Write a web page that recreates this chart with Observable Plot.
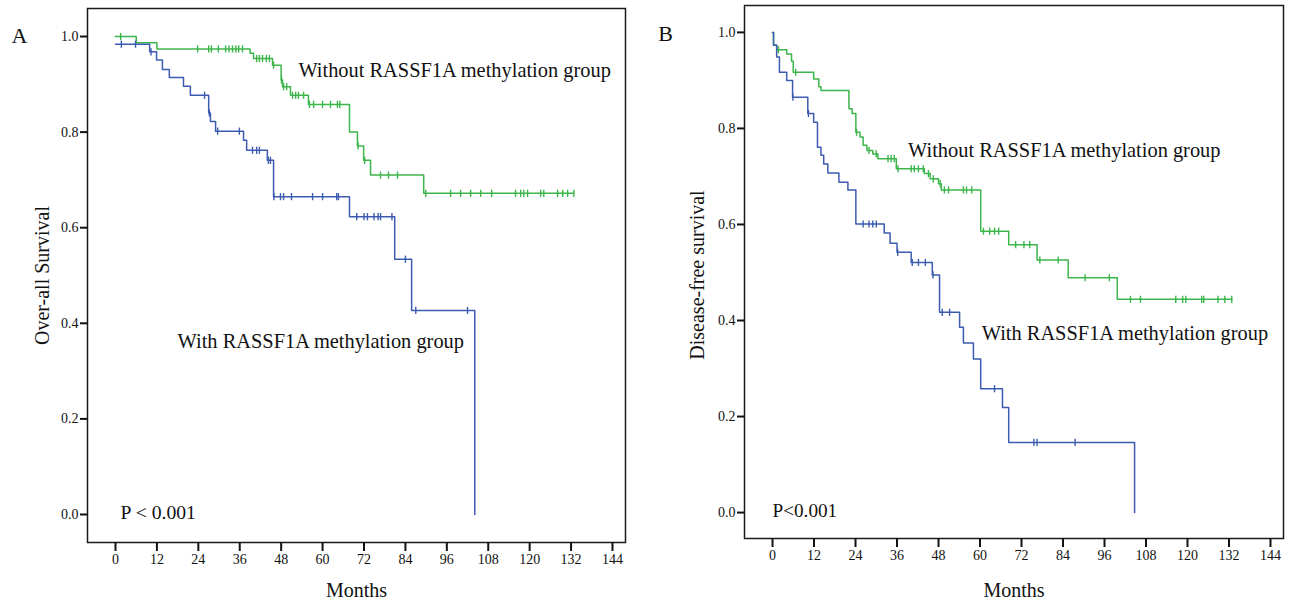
<!DOCTYPE html>
<html>
<head>
<meta charset="utf-8">
<script src="https://cdn.jsdelivr.net/npm/d3@7"></script>
<script src="https://cdn.jsdelivr.net/npm/@observablehq/plot@0.6"></script>
<style>
  html, body { margin: 0; padding: 0; background: #fff; }
  #wrap { position: relative; width: 1291px; height: 603px; overflow: hidden; display: flex; }
  #wrap svg { display: block; flex: none; }
</style>
</head>
<body>
<div id="wrap"></div>
<script>
// ---------- tick labels ----------
const monthTicks = [0, 12, 24, 36, 48, 60, 72, 84, 96, 108, 120, 132, 144];
const survTicks = [0, 0.2, 0.4, 0.6, 0.8, 1.0];

// ---------- Panel A: overall survival ----------
const osNoMethTime = [0, 6, 12, 39, 40, 45.5, 48, 48.4, 50.7, 55.9, 67.8, 70.1, 71.9, 73.9, 89.3];
const osNoMethSurv = [1.0, 0.987, 0.974, 0.965, 0.954, 0.940, 0.909, 0.895, 0.877, 0.858, 0.800, 0.771, 0.741, 0.710, 0.672];
const osNoMethCensor = [1.5, 23.8, 27, 27.8, 29.8, 31.9, 32.9, 33.9, 34.9, 35.7, 36.8, 40.9, 41.7, 42.6, 43.7, 44.6,
  45.8, 48.1, 48.7, 49.6, 51.3, 52.2, 53, 54.5, 56.2, 57.4, 60, 62.3, 64.3, 65, 70.3, 72.2, 76.8, 79.1, 81.7,
  89.9, 97.1, 100, 102.9, 105.8, 109, 115.9, 117.4, 118.3, 119.4, 123.2, 124.1, 128.1, 129.6, 131, 132.8];

const osMethTime = [0, 9.9, 11.9, 13.6, 15.6, 19.7, 21.7, 27, 27.5, 29, 37.1, 38, 44, 45.8, 67.8, 80.9, 85.8, 104.1];
const osMethSurv = [0.984, 0.968, 0.951, 0.931, 0.914, 0.896, 0.877, 0.840, 0.822, 0.802, 0.783, 0.762, 0.741, 0.665, 0.623, 0.534, 0.427, 0];
const osMethCensor = [1.7, 5.8, 10.3, 25.8, 27.2, 29.6, 35.9, 39.7, 40.9, 41.7, 44.3, 44.9, 45.9, 47.8, 48.7, 51, 57.1, 60,
  64.1, 64.6, 69.9, 72, 73, 74.9, 76.1, 76.8, 80.1, 84, 87, 102];

// ---------- Panel B: disease-free survival ----------
const dfsNoMethTime = [0, 0.3, 1.2, 4.1, 5.5, 6, 11.9, 13.4, 14, 22.1, 23, 24.1, 25.3, 26.2, 27.3, 29, 30.5, 35.8, 43.9, 45.6, 48, 48.8, 60.2, 68.3, 76.5, 85.5, 99.7];
const dfsNoMethSurv = [1.0, 0.973, 0.964, 0.955, 0.940, 0.917, 0.903, 0.887, 0.879, 0.841, 0.831, 0.792, 0.782, 0.765, 0.754, 0.747, 0.737, 0.716, 0.706, 0.695, 0.685, 0.672, 0.586, 0.558, 0.526, 0.489, 0.444];
const dfsNoMethCensor = [1.7, 6.7, 24.3, 27.9, 30, 33.4, 34.3, 35.2, 36.3, 40.1, 41, 42.2, 43.6, 45.1, 46.5, 48.5, 49.7, 50.9,
  55.2, 56.1, 57.6, 61, 62.8, 64.2, 65.4, 70.3, 72.7, 74.4, 77.3, 82.6, 90.4, 97.4, 103.5, 106.4, 116.6, 118.6, 119.5,
  124.1, 124.7, 128.8, 130.8, 132.8];

const dfsMethTime = [0, 0.3, 1.2, 2, 4.1, 5.8, 10.2, 11.9, 13, 14, 14.8, 16, 19.2, 21.8, 24.1, 32.3, 34, 36, 40.1, 46.2, 48.3, 54.1, 55.2, 58.1, 60.2, 66.5, 68.3, 104.7];
const dfsMethSurv = [1.0, 0.973, 0.949, 0.917, 0.900, 0.865, 0.831, 0.813, 0.761, 0.744, 0.726, 0.707, 0.688, 0.672, 0.601, 0.582, 0.561, 0.542, 0.521, 0.495, 0.417, 0.386, 0.353, 0.320, 0.258, 0.219, 0.146, 0];
const dfsMethCensor = [5.9, 10.4, 26.2, 27.9, 29, 30, 36.2, 40.4, 42.2, 44.2, 46.4, 49.1, 51.2, 64.2, 75.6, 76.5, 87.5];

// ---------- labels ----------
const groupLabels = ["Without RASSF1A methylation group", "With RASSF1A methylation group"];
const pLabelA = "P < 0.001";
const pLabelB = "P<0.001";

const GREEN = "#3cb54b";
const BLUE = "#3d5bb0";
const FONT = "'Liberation Serif', 'Times New Roman', Times, serif";

// ---------- helpers ----------
function curveRows(times, surv, censor) {
  const rows = times.map((t, i) => ({t, s: surv[i]}));
  const last = surv[surv.length - 1];
  const maxC = d3.max(censor);
  if (last > 0 && maxC > times[times.length - 1]) rows.push({t: maxC, s: last});
  return rows;
}
function censorRows(times, surv, censor) {
  return censor.map(c => {
    const i = Math.max(0, d3.bisectRight(times, c) - 1);
    return {t: c, s: surv[i]};
  });
}
const censorTick = {
  draw(ctx, size) {
    const r = Math.sqrt(size / Math.PI);
    ctx.moveTo(0, -r);
    ctx.lineTo(0, r);
  }
};

function panel(o) {
  const marks = [
    Plot.frame({stroke: "#1a1a1a", strokeWidth: 1.5}),
    Plot.axisX(monthTicks, {anchor: "bottom", tickSize: 9, tickPadding: 3, fontSize: 14, strokeWidth: 2, label: null}),
    Plot.axisY(survTicks, {anchor: "left", tickSize: 7, tickPadding: 2, fontSize: 14, strokeWidth: 2, tickFormat: ".1f", label: null}),
  ];
  for (const g of o.groups) {
    marks.push(Plot.line(curveRows(g.time, g.surv, g.censor), {x: "t", y: "s", curve: "step-after", stroke: g.color, strokeWidth: 1.5}));
    marks.push(Plot.dot(censorRows(g.time, g.surv, g.censor), {x: "t", y: "s", symbol: censorTick, r: 3.6, fill: "none", stroke: g.color, strokeWidth: 1.4}));
  }
  for (const a of o.annotations) {
    marks.push(Plot.text([a.text], {x: a.x, y: a.y, textAnchor: "start", lineAnchor: "middle", fontSize: a.size, fill: "#111"}));
  }
  marks.push(Plot.text([o.letter], {frameAnchor: "top-left", dx: o.letterDx, dy: o.letterDy, textAnchor: "middle", lineAnchor: "middle", fontSize: 22, fill: "#111"}));
  marks.push(Plot.text([o.yTitle], {frameAnchor: "left", dx: o.yTitleDx, dy: o.yTitleDy, rotate: -90, textAnchor: "middle", lineAnchor: "middle", fontSize: 20, fill: "#111"}));
  marks.push(Plot.text(["Months"], {frameAnchor: "bottom", dy: o.xTitleDy, textAnchor: "middle", lineAnchor: "middle", fontSize: 20, fill: "#111"}));
  return Plot.plot({
    width: o.width, height: 603,
    marginLeft: o.ml, marginRight: o.mr, marginTop: o.mt, marginBottom: o.mb,
    style: {fontFamily: FONT, color: "#111", background: "#fff", overflow: "visible"},
    x: {domain: o.xDomain},
    y: {domain: o.yDomain},
    marks
  });
}

const wrap = document.getElementById("wrap");

wrap.append(panel({
  width: 645, ml: 87, mr: 20, mt: 8, mb: 61,
  xDomain: [-8.11, 147.77], yDomain: [-0.0586, 1.0586],
  groups: [
    {time: osNoMethTime, surv: osNoMethSurv, censor: osNoMethCensor, color: GREEN},
    {time: osMethTime, surv: osMethSurv, censor: osMethCensor, color: BLUE}
  ],
  annotations: [
    {text: groupLabels[0], x: 53, y: 0.929, size: 20.4},
    {text: groupLabels[1], x: 18, y: 0.363, size: 20.4},
    {text: pLabelA, x: 1.45, y: 0.003, size: 19.7}
  ],
  letter: "A", letterDx: -68, letterDy: 27,
  yTitle: "Over-all Survival", yTitleDx: -45, yTitleDy: 0,
  xTitleDy: 48
}));

wrap.append(panel({
  width: 646, ml: 99, mr: 8, mt: 5, mb: 65,
  xDomain: [-8.1, 147.76], yDomain: [-0.054, 1.056],
  groups: [
    {time: dfsNoMethTime, surv: dfsNoMethSurv, censor: dfsNoMethCensor, color: GREEN},
    {time: dfsMethTime, surv: dfsMethSurv, censor: dfsMethCensor, color: BLUE}
  ],
  annotations: [
    {text: groupLabels[0], x: 39.2, y: 0.755, size: 20.4},
    {text: groupLabels[1], x: 60.5, y: 0.374, size: 20.4},
    {text: pLabelB, x: 0, y: 0.003, size: 19.2}
  ],
  letter: "B", letterDx: -79, letterDy: 28,
  yTitle: "Disease-free survival", yTitleDx: -47, yTitleDy: 3,
  xTitleDy: 52
}));
</script>
</body>
</html>
